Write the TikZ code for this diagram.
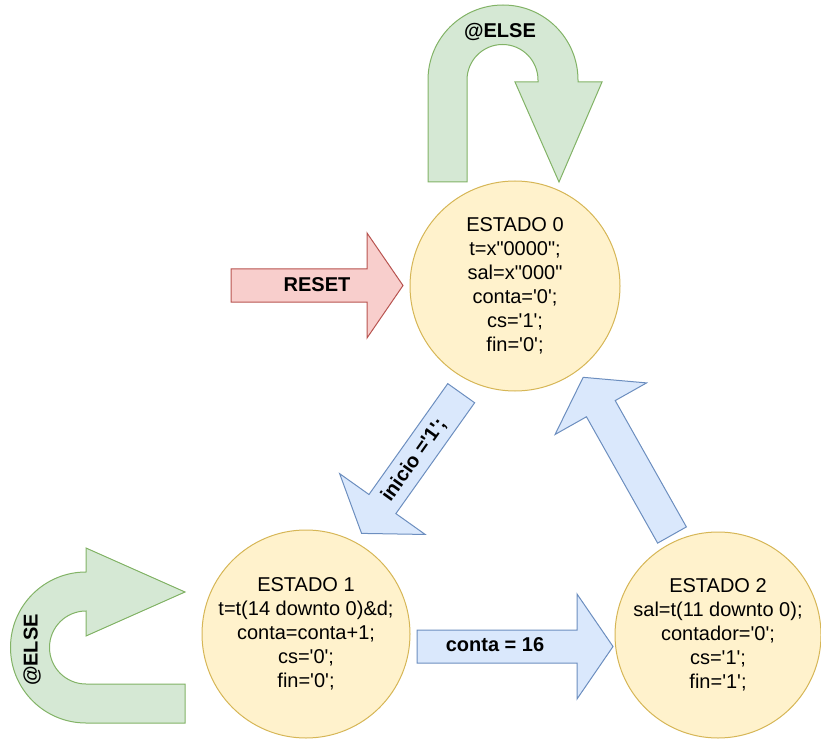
\documentclass[tikz,border=0pt]{standalone}
\usepackage{fontspec}
\setmainfont{Liberation Sans}[Ligatures=TeXOff]
\usetikzlibrary{calc}

\definecolor{stFill}{HTML}{FFF2CC}
\definecolor{stLine}{HTML}{D6B656}
\definecolor{bluFill}{HTML}{DAE8FC}
\definecolor{bluLine}{HTML}{6C8EBF}
\definecolor{grnFill}{HTML}{D5E8D4}
\definecolor{grnLine}{HTML}{82B366}
\definecolor{redFill}{HTML}{F8CECC}
\definecolor{redLine}{HTML}{B85450}

\tikzset{
  txt/.style={font=\fontsize{20}{24}\selectfont, align=center, inner sep=0pt},
  bold/.style={font=\fontsize{20}{24}\selectfont\bfseries, inner sep=0pt},
  state/.style={circle, draw=stLine, fill=stFill, line width=1pt,
    minimum size=#1, inner sep=0pt},
  bluearrow/.style={draw=bluLine, fill=bluFill, line width=1pt, line join=miter},
  greenarrow/.style={draw=grnLine, fill=grnFill, line width=1pt, line join=miter},
  redarrow/.style={draw=redLine, fill=redFill, line width=1pt, line join=miter},
  % block arrow: tail at the origin, pointing along +x, total length #1
  pics/blockarrow/.style={code={
    \path[pic actions] (0,-16.5) -- ({#1-36},-16.5) -- ({#1-36},-52.5) -- (#1,0)
      -- ({#1-36},52.5) -- ({#1-36},16.5) -- (0,16.5) -- cycle;
  }}
}

\begin{document}
\begin{tikzpicture}[x=1pt,y=1pt]
\useasboundingbox (0,0) rectangle (821,740);

% states
\node[state=210] (s0) at (515,454) {};
\node[state=208] (s1) at (306,106) {};
\node[state=206] (s2) at (718,105) {};

\node[txt] (s0t) at (s0) {ESTADO 0\\t=x"0000";\\sal=x"000"\\conta='0';\\cs='1';\\fin='0';};
\node[txt] (s1t) at (s1) {ESTADO 1\\t=t(14 downto 0)\&d;\\conta=conta+1;\\cs='0';\\fin='0';};
\node[txt] (s2t) at (s2) {ESTADO 2\\sal=t(11 downto 0);\\contador='0';\\cs='1';\\fin='1';};

% reset
\pic[redarrow] (rst) at (231,454.5) {blockarrow=172};
\node[bold] (rstl) at (317,455) {RESET};

% estado 0 -> estado 1
\pic[bluearrow, rotate=234.6] (a01) at (461.2,346.8) {blockarrow=172};
\node[bold, rotate=54.6] (a01l) at (414,280) {inicio ='1';};

% estado 1 -> estado 2
\pic[bluearrow] (a12) at (417,93.5) {blockarrow=196};
\node[bold] (a12l) at (495,95) {conta = 16};

% estado 2 -> estado 0
\pic[bluearrow, rotate=119.4] (a20) at (672,205) {blockarrow=181};

% self loop on estado 0
\path[greenarrow] (428,558) -- (428,660) arc[start angle=180, end angle=0, radius=75]
  -- (578,658) -- (602,658) -- (559,558) -- (515,658) -- (538,658) -- (538,660)
  arc[start angle=0, end angle=180, radius=35.5] -- (467,558) -- cycle;
\node[bold] (else0) at (500,708) {@ELSE};

% self loop on estado 1
\path[greenarrow] (185,17) -- (86,17) arc[start angle=270, end angle=90, radius=75.5]
  -- (86,192) -- (185,148) -- (86,104) -- (86,129)
  arc[start angle=90, end angle=270, radius=36.5] -- (185,56) -- cycle;
\node[bold, rotate=90] (else1) at (32,90) {@ELSE};

\end{tikzpicture}
\end{document}
